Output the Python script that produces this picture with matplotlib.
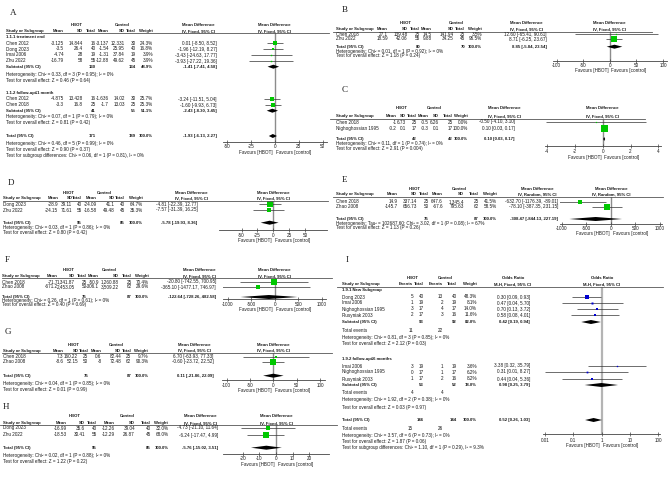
import matplotlib
matplotlib.use('Agg')
import matplotlib.pyplot as plt
from matplotlib.lines import Line2D
from matplotlib.ticker import NullLocator
import numpy as np

# ---------------- DATA ----------------
# Panel A
A_groups = ["1.1.1 treatment end", "1.1.2 follow-up≤1 month"]
A_g1_name = ["Chen 2012", "Dong 2023", "Imai 2006", "Zhu 2022"]
A_g1_hbot = [(-3.125, 14.844, 16), (-3.5, 26.4, 40), (-4.74, 28, 19), (-16.79, 58, 55)]
A_g1_ctrl = [(-3.137, 12.331, 30), (-1.54, 25.95, 40), (-1.31, 37.84, 19), (-12.88, 49.62, 45)]
A_g1_wt = [24.3, 16.8, 3.9, 3.9]
A_g1_ci = [(0.01, -8.50, 8.52), (-1.96, -12.19, 8.27), (-3.43, -24.63, 17.77), (-3.93, -27.22, 19.36)]
A_g1_sub = (130, 134, 48.9, (-1.41, -7.41, 4.58))
A_g1_stats = ["Heterogeneity: Chi² = 0.33, df = 3 (P = 0.95); I² = 0%",
              "Test for overall effect: Z = 0.46 (P = 0.64)"]
A_g2_name = ["Chen 2012", "Chen 2018"]
A_g2_hbot = [(-4.875, 13.428, 16), (-3.3, 16.8, 25)]
A_g2_ctrl = [(-1.636, 14.02, 30), (-1.7, 13.03, 25)]
A_g2_wt = [25.7, 25.3]
A_g2_ci = [(-3.24, -11.51, 5.04), (-1.60, -9.93, 6.73)]
A_g2_sub = (41, 55, 51.1, (-2.43, -8.30, 3.45))
A_g2_stats = ["Heterogeneity: Chi² = 0.07, df = 1 (P = 0.79); I² = 0%",
              "Test for overall effect: Z = 0.81 (P = 0.42)"]
A_total = (171, 189, 100.0, (-1.93, -6.13, 2.27))
A_stats = ["Heterogeneity: Chi² = 0.46, df = 5 (P = 0.99); I² = 0%",
           "Test for overall effect: Z = 0.90 (P = 0.37)",
           "Test for subgroup differences: Chi² = 0.06, df = 1 (P = 0.81), I² = 0%"]
A_ticks = [-50, -25, 0, 25, 50]

# Panel B
B_name = ["Chen 2018", "Zhu 2022"]
B_hbot = [(27.1, 139.48, 25), (18.59, 42.06, 55)]
B_ctrl = [(14.5, 141.94, 25), (9.88, 34.25, 45)]
B_wt = [3.5, 96.5]
B_ci = [(12.60, -65.41, 90.61), (8.71, -6.25, 23.67)]
B_total = (80, 70, 100.0, (8.85, -5.84, 23.54))
B_stats = ["Heterogeneity: Chi² = 0.01, df = 1 (P = 0.92); I² = 0%",
           "Test for overall effect: Z = 1.18 (P = 0.24)"]
B_ticks = [-100, -50, 0, 50, 100]

# Panel C
C_name = ["Chen 2018", "Nighoghossian 1995"]
C_hbot = [(-1, 6.73, 25), (-0.2, 0.1, 17)]
C_ctrl = [(-0.5, 6.26, 25), (-0.3, 0.1, 17)]
C_wt = [0.0, 100.0]
C_ci = [(-0.50, -4.10, 3.10), (0.10, 0.03, 0.17)]
C_total = (42, 42, 100.0, (0.10, 0.03, 0.17))
C_stats = ["Heterogeneity: Chi² = 0.11, df = 1 (P = 0.74); I² = 0%",
           "Test for overall effect: Z = 2.91 (P = 0.004)"]
C_ticks = [-4, -2, 0, 2, 4]

# Panel D
D_name = ["Dong 2023", "Zhu 2022"]
D_hbot = [(-28.9, 39.11, 40), (-24.15, 71.61, 55)]
D_ctrl = [(-24.09, 41.1, 40), (-16.58, 49.48, 45)]
D_wt = [64.7, 35.3]
D_ci = [(-4.81, -22.39, 12.77), (-7.57, -31.39, 16.25)]
D_total = (95, 85, 100.0, (-5.78, -19.93, 8.36))
D_stats = ["Heterogeneity: Chi² = 0.03, df = 1 (P = 0.86); I² = 0%",
           "Test for overall effect: Z = 0.80 (P = 0.42)"]
D_ticks = [-50, -25, 0, 25, 50]

# Panel E
E_name = ["Chen 2018", "Zhao 2008"]
E_hbot = [(14.9, 337.14, 25), (-145.7, 656.73, 50)]
E_ctrl = [(647.6, 1345.4, 25), (-67.6, 795.63, 62)]
E_wt = [41.5, 58.5]
E_ci = [(-632.70, -1176.39, -89.01), (-78.10, -387.35, 231.15)]
E_total = (75, 87, 100.0, (-308.47, -844.13, 227.19))
E_stats = ["Heterogeneity: Tau² = 102687.60; Chi² = 3.02, df = 1 (P = 0.08); I² = 67%",
           "Test for overall effect: Z = 1.13 (P = 0.26)"]
E_ticks = [-1000, -500, 0, 500, 1000]

# Panel F
F_name = ["Chen 2018", "Zhao 2008"]
F_hbot = [(-71.7, 1341.87, 25), (-671.2, 2453.05, 50)]
F_ctrl = [(-50.9, 1260.88, 25), (-306.1, 3509.22, 62)]
F_wt = [70.4, 29.6]
F_ci = [(-20.80, -742.55, 700.95), (-365.10, -1477.17, 746.97)]
F_total = (75, 87, 100.0, (-122.64, -728.26, 482.58))
F_stats = ["Heterogeneity: Chi² = 0.26, df = 1 (P = 0.61); I² = 0%",
           "Test for overall effect: Z = 0.40 (P = 0.69)"]
F_ticks = [-1000, -500, 0, 500, 1000]

# Panel G
G_name = ["Chen 2018", "Zhao 2008"]
G_hbot = [(7.3, 160.22, 25), (-8.6, 52.15, 50)]
G_ctrl = [(0.6, 82.44, 25), (-8, 72.48, 62)]
G_wt = [9.7, 90.3]
G_ci = [(6.70, -63.93, 77.33), (-0.60, -23.72, 22.52)]
G_total = (75, 87, 100.0, (0.11, -21.86, 22.09))
G_stats = ["Heterogeneity: Chi² = 0.04, df = 1 (P = 0.85); I² = 0%",
           "Test for overall effect: Z = 0.01 (P = 0.99)"]
G_ticks = [-100, -50, 0, 50, 100]

# Panel H
H_name = ["Dong 2023", "Zhu 2022"]
H_hbot = [(-16.99, 35.6, 40), (-18.53, 30.41, 55)]
H_ctrl = [(-12.26, 39.04, 40), (-12.29, 26.87, 45)]
H_wt = [32.0, 68.0]
H_ci = [(-4.73, -21.10, 11.64), (-6.24, -17.47, 4.99)]
H_total = (95, 85, 100.0, (-5.76, -15.02, 3.51))
H_stats = ["Heterogeneity: Chi² = 0.02, df = 1 (P = 0.88); I² = 0%",
           "Test for overall effect: Z = 1.22 (P = 0.22)"]
H_ticks = [-20, -10, 0, 10, 20]

# Panel I (odds ratios)
I_groups = ["1.9.1 New Subgroup", "1.9.2 follow-up≤6 months"]
I_g1_name = ["Dong 2023", "Imai 2006", "Nighoghossian 1995", "Rusyniak 2003"]
I_g1_hbot = [(5, 40), (1, 19), (3, 17), (2, 17)]
I_g1_ctrl = [(13, 40), (2, 19), (4, 17), (3, 16)]
I_g1_wt = [48.3, 8.1, 14.0, 11.6]
I_g1_ci = [(0.30, 0.09, 0.93), (0.47, 0.04, 5.70), (0.70, 0.13, 3.72), (0.58, 0.08, 4.01)]
I_g1_sub = (93, 92, 82.0, (0.42, 0.19, 0.94))
I_g1_events = (11, 22)
I_g1_stats = ["Heterogeneity: Chi² = 0.81, df = 3 (P = 0.85); I² = 0%",
              "Test for overall effect: Z = 2.12 (P = 0.03)"]
I_g2_name = ["Imai 2006", "Nighoghossian 1995", "Rusyniak 2003"]
I_g2_hbot = [(3, 19), (0, 17), (1, 17)]
I_g2_ctrl = [(1, 19), (1, 17), (2, 16)]
I_g2_wt = [3.6, 6.2, 8.2]
I_g2_ci = [(3.38, 0.32, 35.79), (0.31, 0.01, 8.27), (0.44, 0.04, 5.36)]
I_g2_sub = (53, 52, 18.0, (0.98, 0.25, 3.79))
I_g2_events = (4, 4)
I_g2_stats = ["Heterogeneity: Chi² = 1.92, df = 2 (P = 0.38); I² = 0%",
              "Test for overall effect: Z = 0.03 (P = 0.97)"]
I_total = (146, 144, 100.0, (0.52, 0.26, 1.03))
I_events = (15, 26)
I_stats = ["Heterogeneity: Chi² = 3.57, df = 6 (P = 0.73); I² = 0%",
           "Test for overall effect: Z = 1.87 (P = 0.06)",
           "Test for subgroup differences: Chi² = 1.10, df = 1 (P = 0.29), I² = 9.3%"]
I_ticks = [0.01, 0.1, 1, 10, 100]
I_ticklabels = ["0.01", "0.1", "1", "10", "100"]

# ---------------- STYLE / HELPERS ----------------
W, H, DPI = 669, 478, 100
FS = 3.3      # regular text
FSB = 3.1     # bold text
FAM = ['Liberation Sans', 'DejaVu Sans']
plt.rcParams['font.family'] = FAM
TXT = '#1a1a1a'
GREEN = '#00c800'
BLUE = '#0000d0'

fig = plt.figure(figsize=(W / DPI, H / DPI), dpi=DPI)
fig.patch.set_facecolor('white')


def fx(x):
    return x / W


def fy(y):
    return 1 - y / H


def T(x, y, s, ha='left', bold=False):
    fig.text(fx(x), fy(y), s, ha=ha, va='center', fontsize=FSB if bold else FS,
             fontweight='bold' if bold else 'normal', color=TXT)


def hline(x0, x1, y):
    fig.add_artist(Line2D([fx(x0), fx(x1)], [fy(y), fy(y)], transform=fig.transFigure,
                          lw=0.6, color='#555555'))


def fnum(v):
    return f"{v:,}"


def fci(c):
    return f"{c[0]:.2f} [{c[1]:.2f}, {c[2]:.2f}]"


def fw(w):
    return f"{w:.1f}%"


def label(s, x, y):
    fig.text(fx(x), fy(y), s, ha='center', va='center', fontsize=6.5,
             family=['Liberation Serif', 'DejaVu Serif'], color=TXT)


def forest(cfg, ticks, ticklabels=None, log=False, title="Mean Difference",
           method="IV, Fixed, 95% CI", zlw=1.0, zcol='#8c8c8c'):
    zero, scale, half = cfg['zero'], cfg['scale'], cfg['half']
    top, axy = cfg['top'], cfg['axis']
    x0, x1 = zero - half * scale, zero + half * scale
    ax = fig.add_axes([fx(x0), fy(axy), (x1 - x0) / W, (axy - top) / H])
    if log:
        ax.set_xscale('log')
        ax.set_xlim(10 ** -half, 10 ** half)
        ref = 1
    else:
        ax.set_xlim(-half, half)
        ref = 0
    ax.set_ylim(axy, top)
    ax.patch.set_alpha(0)
    for s in ['top', 'left', 'right']:
        ax.spines[s].set_visible(False)
    ax.spines['bottom'].set_linewidth(0.6)
    ax.spines['bottom'].set_color('#444444')
    ax.set_yticks([])
    ax.set_xticks(ticks)
    ax.set_xticklabels([])
    ax.xaxis.set_minor_locator(NullLocator())
    ax.tick_params(axis='x', direction='inout', length=2.5, width=0.5, color='#444444')
    ax.axvline(ref, color=zcol, lw=zlw, zorder=0)
    if ticklabels is None:
        ticklabels = [str(t) for t in ticks]
    for t, lab in zip(ticks, ticklabels):
        ax.text(t, cfg['ticky'], lab, ha='center', va='center', fontsize=FS, color=TXT, clip_on=False)
    ax.annotate('Favours [HBOT]', xy=(ref, cfg['fav']), xytext=(-1.2, 0), textcoords='offset points',
                ha='right', va='center', fontsize=FS, color=TXT, annotation_clip=False)
    ax.annotate('Favours [control]', xy=(ref, cfg['fav']), xytext=(1.2, 0), textcoords='offset points',
                ha='left', va='center', fontsize=FS, color=TXT, annotation_clip=False)
    ax.text(ref, cfg['hdr'][0], title, ha='center', va='center', fontsize=FSB,
            fontweight='bold', color=TXT, clip_on=False)
    ax.text(ref, cfg['hdr'][1], method, ha='center', va='center', fontsize=FSB,
            fontweight='bold', color=TXT, clip_on=False)
    return ax


def study_mark(ax, y, w, c, color):
    ax.plot([c[1], c[2]], [y, y], color='#333333', lw=0.5, solid_capstyle='butt', zorder=2)
    side = max(1.2, 0.7 * np.sqrt(w))
    ax.plot([c[0]], [y], marker='s', ms=side * 0.72, mfc=color, mec=color, mew=0,
            ls='none', zorder=3)


def diamond(ax, y, c, hh=2.0):
    ax.fill([c[1], c[0], c[2], c[0]], [y, y - hh, y, y + hh], color='black', lw=0, zorder=3)


def md_panel(L, cfg, groups, total, stats, ticks, method="IV, Fixed, 95% CI"):
    h1, h2 = cfg['hdr']
    T(L['hb'], h1, 'HBOT', 'center', True)
    T(L['ct'], h1, 'Control', 'center', True)
    T(L['cih'], h1, 'Mean Difference', 'center', True)
    T(L['sx'], h2, 'Study or Subgroup', 'left', True)
    for key, txt in [('m1', 'Mean'), ('sd1', 'SD'), ('n1', 'Total'), ('m2', 'Mean'),
                     ('sd2', 'SD'), ('n2', 'Total'), ('w', 'Weight')]:
        T(L[key], h2, txt, 'right', True)
    T(L['cih'], h2, method, 'center', True)
    hline(L['line'][0], L['line'][1], cfg['top'])
    ax = forest(cfg, ticks, method=method)
    ys = iter(L['y'])
    for (title, names, hb, ct, wt, ci, sub, st) in groups:
        if title:
            T(L['sx'], next(ys), title, 'left', True)
        for n, a, b, w, c in zip(names, hb, ct, wt, ci):
            y = next(ys)
            T(L['sx'], y, n)
            T(L['m1'], y, fnum(a[0]), 'right')
            T(L['sd1'], y, fnum(a[1]), 'right')
            T(L['n1'], y, fnum(a[2]), 'right')
            T(L['m2'], y, fnum(b[0]), 'right')
            T(L['sd2'], y, fnum(b[1]), 'right')
            T(L['n2'], y, fnum(b[2]), 'right')
            T(L['w'], y, fw(w), 'right')
            T(L['ci'], y, fci(c), 'right')
            study_mark(ax, y, w, c, GREEN)
        if sub:
            y = next(ys)
            T(L['sx'], y, 'Subtotal (95% CI)', 'left', True)
            T(L['n1'], y, fnum(sub[0]), 'right', True)
            T(L['n2'], y, fnum(sub[1]), 'right', True)
            T(L['w'], y, fw(sub[2]), 'right', True)
            T(L['ci'], y, fci(sub[3]), 'right', True)
            diamond(ax, y, sub[3])
            for s in st:
                T(L['sx'], next(ys), s)
    y = next(ys)
    T(L['sx'], y, 'Total (95% CI)', 'left', True)
    T(L['n1'], y, fnum(total[0]), 'right', True)
    T(L['n2'], y, fnum(total[1]), 'right', True)
    T(L['w'], y, fw(total[2]), 'right', True)
    T(L['ci'], y, fci(total[3]), 'right', True)
    diamond(ax, y, total[3])
    for s in stats:
        T(L['sx'], next(ys), s)


# ---------------- PANEL A ----------------
label('A', 12.7, 13)
LA = dict(sx=6, m1=64, sd1=83, n1=96, m2=109, sd2=125, n2=136, w=153, ci=217, cih=198,
          hb=77, ct=122, line=(6, 329),
          y=[37.3, 43.3, 49, 55, 61, 66.7, 74.7, 80.3, 93.3, 99, 105, 110.7, 116.7, 122.3,
             136, 143.3, 149, 155])
CA = dict(zero=274.7, scale=0.96, half=54, top=33, axis=141.7, ticky=146.7, fav=152.7, hdr=(25, 31))
md_panel(LA, CA,
         [(A_groups[0], A_g1_name, A_g1_hbot, A_g1_ctrl, A_g1_wt, A_g1_ci, A_g1_sub, A_g1_stats),
          (A_groups[1], A_g2_name, A_g2_hbot, A_g2_ctrl, A_g2_wt, A_g2_ci, A_g2_sub, A_g2_stats)],
         A_total, A_stats, A_ticks)

# ---------------- PANEL B ----------------
label('B', 345, 9.7)
LB = dict(sx=336, m1=388, sd1=408, n1=420, m2=432, sd2=454, n2=465, w=482, ci=547, cih=526,
          hb=406, ct=456, line=(333, 652), y=[34.3, 39, 46.7, 51.3, 55.7])
CB = dict(zero=609.8, scale=0.5315, half=107, top=32, axis=61, ticky=65.7, fav=70.7, hdr=(23.3, 29.3))
md_panel(LB, CB, [(None, B_name, B_hbot, B_ctrl, B_wt, B_ci, None, None)], B_total, B_stats, B_ticks)

# ---------------- PANEL C ----------------
label('C', 344.5, 90)
LC = dict(sx=336, m1=397, sd1=406, n1=417, m2=429, sd2=439, n2=453, w=468, ci=515, cih=504,
          hb=402, ct=434, line=(330, 645), y=[122, 128.3, 139, 143.7, 148.3])
CC = dict(zero=602.8, scale=13.875, half=4.2, top=119.3, axis=146, ticky=151.7, fav=157.7, hdr=(107.7, 116))
md_panel(LC, CC, [(None, C_name, C_hbot, C_ctrl, C_wt, C_ci, None, None)], C_total, C_stats, C_ticks)

# ---------------- PANEL D ----------------
label('D', 11, 183)
LD = dict(sx=3.3, m1=58.3, sd1=72.3, n1=81.7, m2=96.7, sd2=115, n2=125, w=142.7, ci=197.3, cih=191.5,
          hb=69, ct=104, line=(3, 328), y=[204.3, 210, 222.7, 227.3, 232.7])
CD = dict(zero=273.3, scale=0.634, half=85, top=200.7, axis=229.5, ticky=235.3, fav=240.8, hdr=(192.7, 198.3))
md_panel(LD, CD, [(None, D_name, D_hbot, D_ctrl, D_wt, D_ci, None, None)], D_total, D_stats, D_ticks)

# ---------------- PANEL E ----------------
label('E', 344.5, 180)
LE = dict(sx=336, m1=398, sd1=417, n1=429, m2=443, sd2=464, n2=479, w=497, ci=558, cih=537,
          hb=415, ct=459, line=(333, 663), y=[201.7, 206.7, 219, 223.3, 227.7])
CE = dict(zero=610.85, scale=0.04915, half=1040, top=196.7, axis=223.8, ticky=229, fav=233.3, hdr=(189, 194))
md_panel(LE, CE, [(None, E_name, E_hbot, E_ctrl, E_wt, E_ci, None, None)], E_total, E_stats, E_ticks,
         method="IV, Random, 95% CI")

# ---------------- PANEL F ----------------
label('F', 7.5, 260)
LF = dict(sx=2, m1=58, sd1=75, n1=86.7, m2=99, sd2=119, n2=132, w=149, ci=216, cih=199,
          hb=69, ct=109, line=(2, 332), y=[282, 287, 297, 300.7, 304.4])
CF = dict(zero=274.7, scale=0.047, half=1100, top=278.3, axis=299, ticky=304, fav=309, hdr=(270, 276))
md_panel(LF, CF, [(None, F_name, F_hbot, F_ctrl, F_wt, F_ci, None, None)], F_total, F_stats, F_ticks)

# ---------------- PANEL G ----------------
label('G', 8.3, 332)
LG = dict(sx=3.3, m1=63.3, sd1=78.3, n1=88.3, m2=101.7, sd2=121, n2=131.3, w=148.3, ci=213.3, cih=194.7,
          hb=74, ct=116, line=(2, 332), y=[356.5, 361.7, 375.7, 383.3, 389])
CG = dict(zero=273.3, scale=0.4667, half=110, top=352.7, axis=380, ticky=385, fav=390, hdr=(345, 350.7))
md_panel(LG, CG, [(None, G_name, G_hbot, G_ctrl, G_wt, G_ci, None, None)], G_total, G_stats, G_ticks)

# ---------------- PANEL H ----------------
label('H', 5.5, 407)
LH = dict(sx=2.7, m1=66.7, sd1=85, n1=96.7, m2=115, sd2=135, n2=150.7, w=168.3, ci=218.3, cih=200,
          hb=75, ct=127, line=(0, 337), y=[428, 435, 447.7, 455, 461.7])
CH = dict(zero=276, scale=1.667, half=32, top=425.3, axis=453.8, ticky=459, fav=464.3, hdr=(416, 423.3))
md_panel(LH, CH, [(None, H_name, H_hbot, H_ctrl, H_wt, H_ci, None, None)], H_total, H_stats, H_ticks)

# ---------------- PANEL I ----------------
label('I', 346.7, 260)
LI = dict(sx=341.7, e1=413.3, n1=424, e2=443.3, n2=457, w=477, ci=530, cih=513, hb=413, ct=445,
          line=(337, 663),
          y=[290, 297, 303, 309, 315, 322, 330, 337, 343, 359, 366, 372, 379, 385, 393, 400, 407,
             420, 428, 435, 441, 448])
CI_ = dict(zero=601.65, scale=28.33, half=2.07, top=286.7, axis=434, ticky=440, fav=446, hdr=(278.3, 284.3))
h1, h2 = CI_['hdr']
T(LI['hb'], h1, 'HBOT', 'center', True)
T(LI['ct'], h1, 'Control', 'center', True)
T(LI['cih'], h1, 'Odds Ratio', 'center', True)
T(LI['sx'], h2, 'Study or Subgroup', 'left', True)
for key, txt in [('e1', 'Events'), ('n1', 'Total'), ('e2', 'Events'), ('n2', 'Total'), ('w', 'Weight')]:
    T(LI[key], h2, txt, 'right', True)
T(LI['cih'], h2, 'M-H, Fixed, 95% CI', 'center', True)
hline(LI['line'][0], LI['line'][1], CI_['top'])
axI = forest(CI_, I_ticks, I_ticklabels, log=True, title="Odds Ratio", method="M-H, Fixed, 95% CI",
             zlw=1.6, zcol='#b4b4b4')
ysI = iter(LI['y'])
for (title, names, hb, ct, wt, ci, sub, ev, st) in [
        (I_groups[0], I_g1_name, I_g1_hbot, I_g1_ctrl, I_g1_wt, I_g1_ci, I_g1_sub, I_g1_events, I_g1_stats),
        (I_groups[1], I_g2_name, I_g2_hbot, I_g2_ctrl, I_g2_wt, I_g2_ci, I_g2_sub, I_g2_events, I_g2_stats)]:
    T(LI['sx'], next(ysI), title, 'left', True)
    for n, a, b, w, c in zip(names, hb, ct, wt, ci):
        y = next(ysI)
        T(LI['sx'], y, n)
        T(LI['e1'], y, fnum(a[0]), 'right')
        T(LI['n1'], y, fnum(a[1]), 'right')
        T(LI['e2'], y, fnum(b[0]), 'right')
        T(LI['n2'], y, fnum(b[1]), 'right')
        T(LI['w'], y, fw(w), 'right')
        T(LI['ci'], y, fci(c), 'right')
        study_mark(axI, y, w, c, BLUE)
    y = next(ysI)
    T(LI['sx'], y, 'Subtotal (95% CI)', 'left', True)
    T(LI['n1'], y, fnum(sub[0]), 'right', True)
    T(LI['n2'], y, fnum(sub[1]), 'right', True)
    T(LI['w'], y, fw(sub[2]), 'right', True)
    T(LI['ci'], y, fci(sub[3]), 'right', True)
    diamond(axI, y, sub[3])
    y = next(ysI)
    T(LI['sx'], y, 'Total events')
    T(LI['e1'], y, fnum(ev[0]), 'right')
    T(LI['e2'], y, fnum(ev[1]), 'right')
    for s in st:
        T(LI['sx'], next(ysI), s)
y = next(ysI)
T(LI['sx'], y, 'Total (95% CI)', 'left', True)
T(LI['n1'], y, fnum(I_total[0]), 'right', True)
T(LI['n2'], y, fnum(I_total[1]), 'right', True)
T(LI['w'], y, fw(I_total[2]), 'right', True)
T(LI['ci'], y, fci(I_total[3]), 'right', True)
diamond(axI, y, I_total[3])
y = next(ysI)
T(LI['sx'], y, 'Total events')
T(LI['e1'], y, fnum(I_events[0]), 'right')
T(LI['e2'], y, fnum(I_events[1]), 'right')
for s in I_stats:
    T(LI['sx'], next(ysI), s)

fig.savefig('out.png', dpi=DPI, facecolor='white')
